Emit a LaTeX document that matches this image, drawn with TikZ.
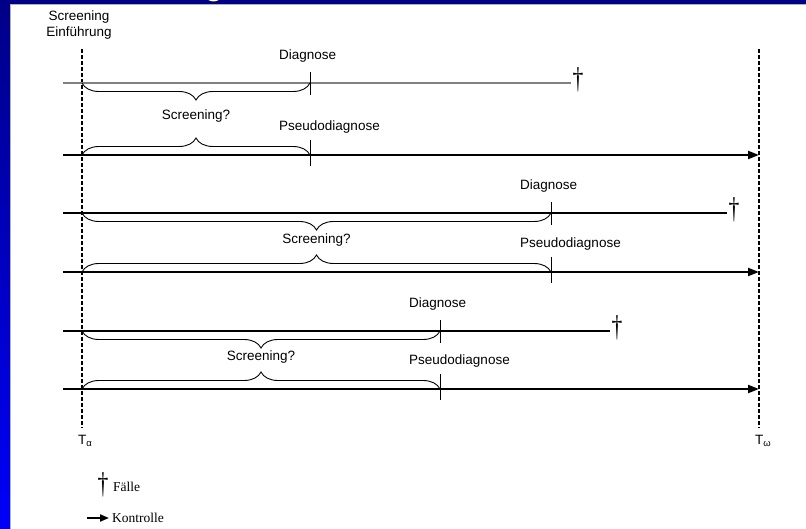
\documentclass[tikz,border=0pt]{standalone}
\usepackage{fontspec}
\usepackage{graphicx}
\setmainfont{Liberation Serif}
\setsansfont{Liberation Sans}
\usetikzlibrary{arrows.meta,decorations.pathreplacing}

\definecolor{slidenavy}{RGB}{0,0,135}
\definecolor{slideblue}{RGB}{0,0,250}

% narrow dagger used as the case marker
\newcommand{\casemark}{\scalebox{0.72}[1]{†}}

\tikzset{
  lbl/.style={font=\sffamily\fontsize{13.5}{16}\selectfont, inner sep=0pt},
  legendtext/.style={font=\rmfamily\fontsize{13.5}{15}\selectfont, inner sep=0pt, anchor=west},
  dag/.style={font=\rmfamily\fontsize{30}{32}\selectfont, inner sep=0pt},
  epoch/.style={line width=1.6pt, dash pattern=on 4pt off 2pt},
  caseline/.style={line width=1.1pt},
  ctrlline/.style={line width=2.2pt, -{Triangle[length=11pt,width=8pt]}},
  tickmark/.style={line width=0.9pt},
  brc/.style={decorate, decoration={brace, amplitude=17pt}, line width=0.9pt},
}

\begin{document}
\begin{tikzpicture}[x=1pt,y=-1pt]
  \useasboundingbox (0,0) rectangle (806,529);

  % slide frame
  \fill[white] (0,0) rectangle (806,529);
  \shade[top color=slidenavy, bottom color=slideblue] (0,0) rectangle (10,529);
  \fill[slidenavy] (0,0) rectangle (806,4);
  \begin{scope}
    \clip (0,0) rectangle (806,4);
    \node[white, font=\sffamily\bfseries\fontsize{30}{30}\selectfont, inner sep=0pt] (ttl) at (214,-9) {g};
  \end{scope}
  \draw[gray!60, line width=0.8pt] (10,529) -- (10,4.6) -- (806,4.6);

  % start and end of the observation period
  \coordinate (ta) at (82,49);
  \coordinate (tab) at (82,428);
  \coordinate (to) at (759,49);
  \coordinate (tob) at (759,428);
  \draw[epoch] (ta) -- (tab);
  \draw[epoch] (to) -- (tob);
  \node[lbl, align=center] (intro) at (79,25) {Screening\\Einführung};
  \node[lbl, anchor=north west] (talabel) at (78,435) {T\textsubscript{α}};
  \node[lbl, anchor=north west] (tolabel) at (755,435) {T\textsubscript{ω}};

  % three case/control pairs
  \foreach \i/\yc/\yk/\xd/\xe/\xg/\col in {1/83/155/310/571/578/gray, 2/213/272/551/727/734/black, 3/331/389/440/610/617/black}{
    \coordinate (cs\i) at (63,\yc);
    \coordinate (ce\i) at (\xe,\yc);
    \coordinate (cd\i) at (\xd,\yc);
    \coordinate (ca\i) at (82,\yc);
    \coordinate (ks\i) at (63,\yk);
    \coordinate (ke\i) at (759,\yk);
    \coordinate (kd\i) at (\xd,\yk);
    \coordinate (ka\i) at (82,\yk);
    \coordinate (ct\i) at (\xd,\yc-11);
    \coordinate (cb\i) at (\xd,\yc+12);
    \coordinate (kt\i) at (\xd,\yk-15);
    \coordinate (kb\i) at (\xd,\yk+11);

    \draw[caseline, draw=\col] (cs\i) -- (ce\i);
    \node[dag] (dg\i) at (\xg,\yc-3) {\casemark};
    \draw[tickmark] (ct\i) -- (cb\i);
    \node[lbl, anchor=west] (dn\i) at (\xd-31,\yc-27) {Diagnose};
    \draw[brc, decoration={mirror}] (ca\i) -- (cd\i);

    \node[lbl] (sq\i) at ({(82+\xd)/2},{(\yc+\yk)/2-2.5}) {Screening?};

    \draw[ctrlline] (ks\i) -- (ke\i);
    \draw[tickmark] (kt\i) -- (kb\i);
    \node[lbl, anchor=west] (pd\i) at (\xd-31,\yk-27.5) {Pseudodiagnose};
    \draw[brc] (ka\i) -- (kd\i);
  }

  % legend
  \node[dag] (lgdag) at (103,485) {\casemark};
  \node[legendtext] (lgcase) at (113,487) {Fälle};
  \coordinate (lga) at (87,518);
  \coordinate (lgb) at (109,518);
  \draw[line width=2pt, -{Triangle[length=9pt,width=7pt]}] (lga) -- (lgb);
  \node[legendtext] (lgctrl) at (112,518) {Kontrolle};
\end{tikzpicture}
\end{document}
